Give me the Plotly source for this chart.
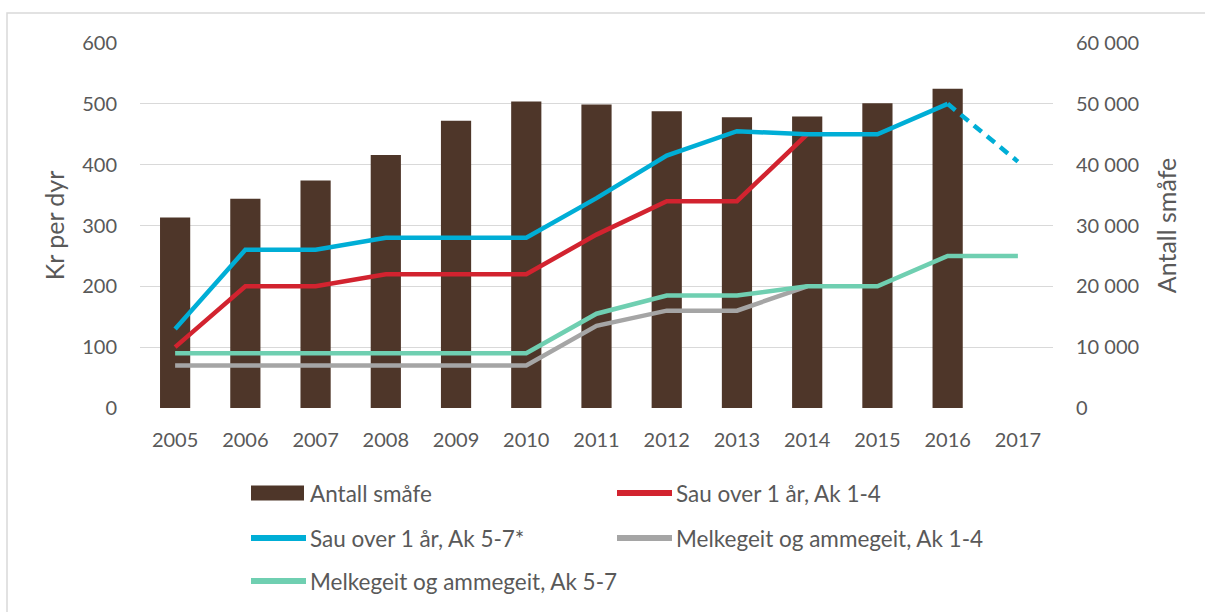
import plotly.graph_objects as go

years = ["2005", "2006", "2007", "2008", "2009", "2010", "2011",
         "2012", "2013", "2014", "2015", "2016", "2017"]
antall_smafe = [31300, 34400, 37400, 41600, 47200, 50400, 49900,
                48800, 47800, 47900, 50100, 52500, None]
sau_ak14 = [100, 200, 200, 220, 220, 220, 285, 340, 340, 450, None, None, None]
sau_ak57 = [130, 260, 260, 280, 280, 280, 345, 415, 455, 450, 450, 500, None]
sau_ak57_2017 = [None] * 11 + [500, 405]
geit_ak14 = [70, 70, 70, 70, 70, 70, 135, 160, 160, 200, None, None, None]
geit_ak57 = [90, 90, 90, 90, 90, 90, 155, 185, 185, 200, 200, 250, 250]

left_ticks = [0, 100, 200, 300, 400, 500, 600]
right_ticks = [0, 10000, 20000, 30000, 40000, 50000, 60000]

names = ["Antall småfe", "Sau over 1 år, Ak 1-4", "Sau over 1 år, Ak 5-7*",
         "Melkegeit og ammegeit, Ak 1-4", "Melkegeit og ammegeit, Ak 5-7"]

BROWN = "#4E3629"
RED = "#D2232F"
BLUE = "#00AED6"
GRAY = "#A5A5A5"
GREEN = "#6FCFB1"
TXT = "#595959"
GRID = "#D9D9D9"
FONT = "Lato"

W, H = 1205, 612
L, R, T, B = 140, 152, 43, 204
PW, PH = W - L - R, H - T - B


def px(x):
    return (x - L) / PW


def py(y):
    return (H - B - y) / PH


fig = go.Figure()

fig.add_trace(go.Bar(x=years, y=antall_smafe, marker=dict(color=BROWN, line=dict(width=0)),
                     name=names[0], yaxis="y", width=0.43))
fig.add_trace(go.Scatter(x=years, y=sau_ak14, mode="lines", name=names[1],
                         line=dict(color=RED, width=4.5), yaxis="y2"))
fig.add_trace(go.Scatter(x=years, y=sau_ak57, mode="lines", name=names[2],
                         line=dict(color=BLUE, width=4.5), yaxis="y2"))
fig.add_trace(go.Scatter(x=years, y=sau_ak57_2017, mode="lines", name=names[2],
                         line=dict(color=BLUE, width=4.5, dash="10px,7px"), yaxis="y2"))
fig.add_trace(go.Scatter(x=years, y=geit_ak14, mode="lines", name=names[3],
                         line=dict(color=GRAY, width=4.5), yaxis="y2"))
fig.add_trace(go.Scatter(x=years, y=geit_ak57, mode="lines", name=names[4],
                         line=dict(color=GREEN, width=4.5), yaxis="y2"))

# manual legend (two columns, long symbols as in the original)
legend_items = [  # (name index, colour, kind, column x, row y)
    (0, BROWN, "bar", 251, 493),
    (1, RED, "line", 617, 493),
    (2, BLUE, "line", 251, 538),
    (3, GRAY, "line", 617, 538),
    (4, GREEN, "line", 251, 581),
]
shapes = [dict(type="rect", xref="paper", yref="paper",
               x0=px(7), x1=px(W + 20), y0=py(H + 20), y1=py(13),
               line=dict(color=GRID, width=1.5), fillcolor="rgba(0,0,0,0)", layer="below")]
annotations = []
for idx, col, kind, x0, y0 in legend_items:
    if kind == "bar":
        shapes.append(dict(type="rect", xref="paper", yref="paper",
                           x0=px(x0), x1=px(x0 + 53), y0=py(y0 + 7.5), y1=py(y0 - 7.5),
                           line=dict(width=0), fillcolor=col))
    else:
        shapes.append(dict(type="line", xref="paper", yref="paper",
                           x0=px(x0), x1=px(x0 + 55), y0=py(y0), y1=py(y0),
                           line=dict(color=col, width=6)))
    annotations.append(dict(xref="paper", yref="paper", x=px(x0 + 57), y=py(y0),
                            xanchor="left", yanchor="middle", showarrow=False,
                            text=names[idx],
                            font=dict(family=FONT, size=22.5, color=TXT)))

fig.update_layout(
    width=W, height=H,
    margin=dict(l=L, r=R, t=T, b=B),
    paper_bgcolor="white", plot_bgcolor="white",
    separators=", ",
    showlegend=False,
    font=dict(family=FONT, size=20, color=TXT),
    xaxis=dict(type="category", categoryorder="array", categoryarray=years,
               showgrid=False, showline=False, zeroline=False, ticks="",
               tickfont=dict(family=FONT, size=20, color=TXT), ticklabelstandoff=18),
    yaxis=dict(side="right", range=[0, 60000], tickvals=right_ticks, tickformat=",",
               showgrid=True, gridcolor=GRID, gridwidth=1.3, zeroline=False,
               showline=False, ticks="", ticklabelstandoff=22,
               tickfont=dict(family=FONT, size=20, color=TXT),
               title=dict(text=names[0], font=dict(family=FONT, size=25, color=TXT),
                          standoff=20)),
    yaxis2=dict(overlaying="y", side="left", range=[0, 600], tickvals=left_ticks,
                showgrid=False, zeroline=False, showline=False, ticks="",
                ticklabelstandoff=22,
                tickfont=dict(family=FONT, size=20, color=TXT),
                title=dict(text="Kr per dyr", font=dict(family=FONT, size=25, color=TXT),
                           standoff=10)),
    shapes=shapes,
    annotations=annotations,
)

fig.write_html("out.html", config={"displayModeBar": False},
               post_script="document.body.style.margin='0';")
